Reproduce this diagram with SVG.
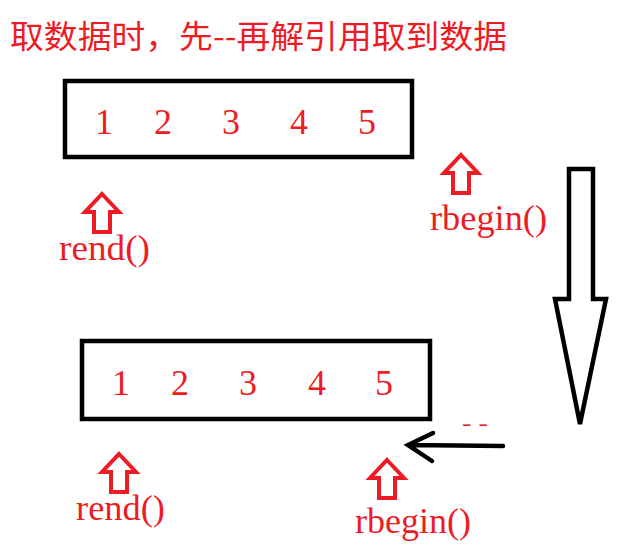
<svg xmlns="http://www.w3.org/2000/svg" width="623" height="554" viewBox="0 0 623 554">
<style>
.t{fill:#ed1c24;font-family:"Liberation Serif","DejaVu Serif",serif;}
.num{font-size:36px;text-anchor:middle;}
.lbl{font-size:35px;}
.box{fill:none;stroke:#000;stroke-width:4.5;}
.up{fill:none;stroke:#ed1c24;stroke-width:4;stroke-linejoin:miter;}
.blk{fill:none;stroke:#000;stroke-width:4.5;stroke-linejoin:miter;stroke-linecap:round;}
</style>
<defs>
<path id="uparrow" d="M0,0 L17,18 L8,18 L8,38 L-8,38 L-8,18 L-17,18 Z"/>
</defs>
<rect width="623" height="554" fill="#fff"/>
<g id="title">
<text class="t" x="10" y="48" font-size="32" textLength="497" lengthAdjust="spacingAndGlyphs" style='font-family:"Noto Sans CJK SC","Liberation Serif",sans-serif'>取数据时，先--再解引用取到数据</text>
</g>
<g id="array-top">
<rect class="box" x="65" y="81" width="347" height="76"/>
<text class="t num" x="104" y="134">1</text>
<text class="t num" x="163" y="134">2</text>
<text class="t num" x="231" y="134">3</text>
<text class="t num" x="299" y="134">4</text>
<text class="t num" x="367" y="134">5</text>
</g>
<g id="rend-top">
<use href="#uparrow" class="up" transform="translate(102,194)"/>
<text class="t lbl" x="59" y="260" textLength="91" lengthAdjust="spacingAndGlyphs">rend()</text>
</g>
<g id="rbegin-top">
<use href="#uparrow" class="up" transform="translate(461,155)"/>
<text class="t lbl" x="430" y="230" textLength="117" lengthAdjust="spacingAndGlyphs">rbegin()</text>
</g>
<g id="array-bottom">
<rect class="box" x="82" y="341" width="348" height="78"/>
<text class="t num" x="121" y="395">1</text>
<text class="t num" x="180" y="395">2</text>
<text class="t num" x="248" y="395">3</text>
<text class="t num" x="317" y="395">4</text>
<text class="t num" x="384" y="395">5</text>
</g>
<g id="rend-bottom">
<use href="#uparrow" class="up" transform="translate(119,454)"/>
<text class="t lbl" x="76" y="520" textLength="89" lengthAdjust="spacingAndGlyphs">rend()</text>
</g>
<g id="rbegin-bottom">
<use href="#uparrow" class="up" transform="translate(387,460)"/>
<text class="t lbl" x="355" y="533" textLength="116" lengthAdjust="spacingAndGlyphs">rbegin()</text>
</g>
<g id="connectors">
<path class="blk" d="M569,169 L593,169 L593,299 L606,299 L580,424 L555,299 L569,299 Z" style="stroke-linecap:butt"/>
<path class="blk" d="M503,446 L408,445 M433,433 L408,445 L432,461"/>
<text class="t" x="462" y="430" font-size="22" textLength="26" lengthAdjust="spacingAndGlyphs">- -</text>
</g>
</svg>
